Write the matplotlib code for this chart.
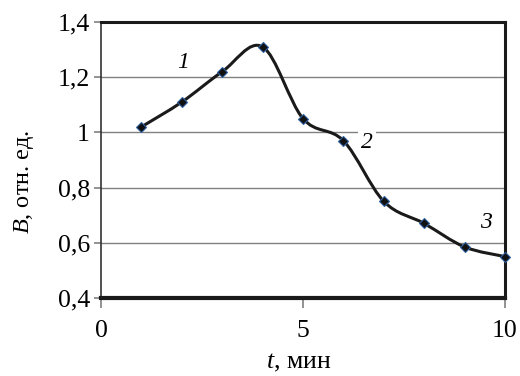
import matplotlib
matplotlib.use("Agg")
import matplotlib.pyplot as plt
import numpy as np
from matplotlib.path import Path
from matplotlib.patches import PathPatch
from matplotlib.ticker import FuncFormatter

# данные
t_min = [1, 2, 3, 4, 5, 6, 7, 8, 9, 10]
b_rel = [1.02, 1.11, 1.22, 1.31, 1.05, 0.97, 0.75, 0.67, 0.585, 0.55]
curve_labels = ["1", "2", "3"]
label_pos = [(2.03, 1.255), (6.58, 0.965), (9.53, 0.672)]

plt.rcParams['font.family'] = 'serif'
plt.rcParams['font.serif'] = ['Liberation Serif']
plt.rcParams['mathtext.fontset'] = 'custom'
plt.rcParams['mathtext.rm'] = 'Liberation Serif'
plt.rcParams['mathtext.it'] = 'Liberation Serif:italic'

fig = plt.figure(figsize=(5.2, 3.76), dpi=100)
ax = fig.add_axes([101 / 520, 1 - 298 / 376, 404 / 520, 276 / 376])


def smooth_path(x, y):
    # сглаженная линия как в Excel (Безье по соседним точкам)
    pts = np.column_stack([x, y]).astype(float)
    verts = [pts[0]]
    codes = [Path.MOVETO]
    n = len(pts)
    for i in range(n - 1):
        p0 = pts[i - 1] if i > 0 else pts[i]
        p1 = pts[i]
        p2 = pts[i + 1]
        p3 = pts[i + 2] if i + 2 < n else pts[i + 1]
        c1 = p1 + (p2 - p0) / 6
        c2 = p2 - (p3 - p1) / 6
        verts += [c1, c2, p2]
        codes += [Path.CURVE4] * 3
    return Path(verts, codes)


ax.add_patch(PathPatch(smooth_path(t_min, b_rel), fill=False, lw=2.2,
                       edgecolor='#1a1a1a', zorder=3))
ax.plot(t_min, b_rel, ls='none', marker='D', ms=5.5, mfc='#111111',
        mec='#2f5f9f', mew=0.8, zorder=4, clip_on=False)

for s, (xx, yy) in zip(curve_labels, label_pos):
    ax.text(xx, yy, s, fontsize=17, style='italic', ha='center', va='center',
            zorder=5, bbox=dict(facecolor='white', edgecolor='none', pad=2) if s == "2" else None)

ax.set_xlim(0, 10)
ax.set_ylim(0.4, 1.4)
ax.set_xticks([0, 5, 10])
ax.set_yticks([0.4, 0.6, 0.8, 1.0, 1.2, 1.4])
ax.yaxis.set_major_formatter(FuncFormatter(lambda v, p: ('%g' % v).replace('.', ',')))
ax.grid(axis='y', color='#808080', lw=1)
ax.set_axisbelow(True)

ax.spines['top'].set_linewidth(2.2)
ax.spines['bottom'].set_linewidth(3)
ax.spines['right'].set_linewidth(2.2)
ax.spines['left'].set_linewidth(1.2)
for k in ['top', 'bottom', 'right']:
    ax.spines[k].set_color('#1a1a1a')
ax.spines['left'].set_color('#333333')

ax.tick_params(axis='both', direction='out', length=5, width=1.2,
               color='#808080', labelsize=18.5, pad=3)
ax.tick_params(axis='x', length=7, pad=9)

ax.set_xlabel('$\\it{t}$, мин', fontsize=18.5)
ax.set_ylabel('$\\it{B}$, отн. ед.', fontsize=17.5)
ax.xaxis.set_label_coords(0.49, -0.195)
ax.yaxis.set_label_coords(-0.16, 0.42)

fig.savefig('out.png', dpi=100)
